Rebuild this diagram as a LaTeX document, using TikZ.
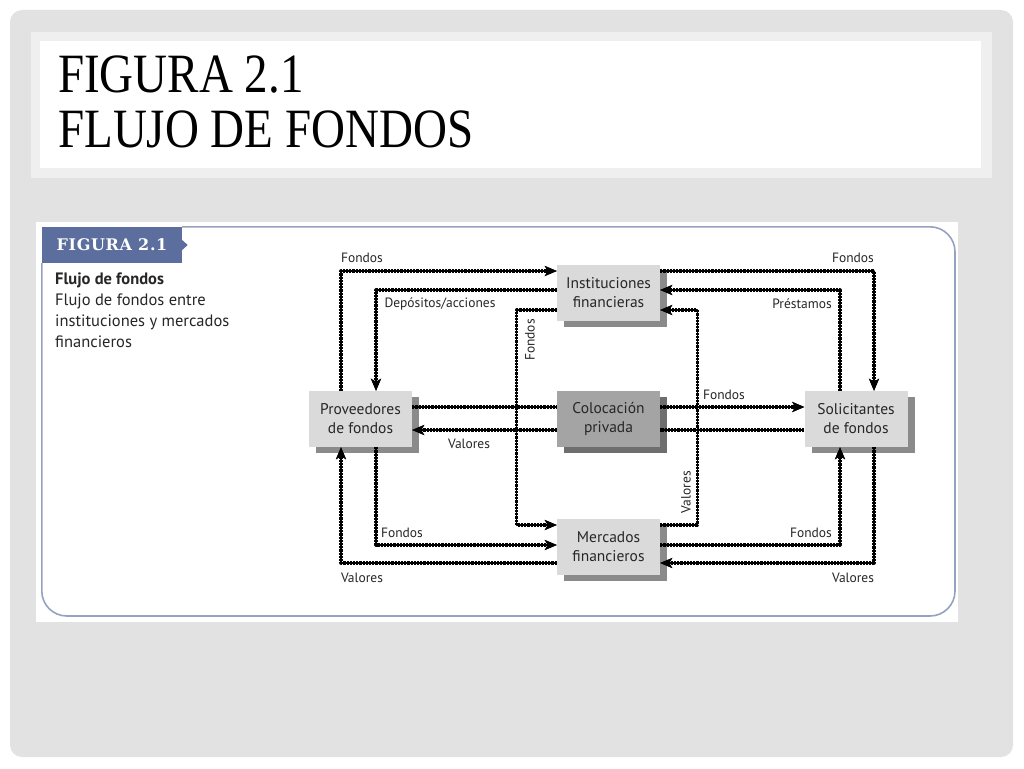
\documentclass[tikz,border=0pt]{standalone}
\usepackage{fontspec}
\usepackage{graphicx}
\setmainfont{Liberation Serif}
\setsansfont{PT Sans}
\newfontfamily\etiqueta[LetterSpace=4]{DejaVu Serif}
\usetikzlibrary{arrows.meta,shadows}
\definecolor{fondo}{HTML}{E2E2E2}
\definecolor{marco}{HTML}{EFEFEF}
\definecolor{tabazul}{HTML}{5B6E9D}
\definecolor{borde}{HTML}{97A2C1}
\definecolor{cajagris}{HTML}{DADADA}
\definecolor{sombra}{HTML}{8A8A8A}
\definecolor{colocgris}{HTML}{A4A4A4}
\definecolor{colocsombra}{HTML}{6E6E6E}
\begin{document}
\begin{tikzpicture}[x=1pt, y=-1pt, font=\sffamily, line join=round,
  >={Stealth[length=12pt,width=10pt,inset=3pt]},
  cajabase/.style={minimum width=103pt, minimum height=56pt, inner sep=0pt, align=center,
    font=\sffamily\fontsize{15.5}{19}\selectfont, text=black!85},
  caja/.style={cajabase, fill=cajagris,
    drop shadow={shadow xshift=7pt, shadow yshift=-6pt, fill=sombra, opacity=1}},
  colocacion/.style={cajabase, fill=colocgris,
    drop shadow={shadow xshift=7pt, shadow yshift=-6pt, fill=colocsombra, opacity=1}},
  flujo/.style={line width=3.2pt, line cap=butt, dash pattern=on 2.2pt off 1pt,
    preaction={draw, solid, line width=1.3pt}},
  rotulo/.style={font=\sffamily\fontsize{13.5}{15}\selectfont, text=black!85, inner sep=0pt}]
\useasboundingbox (0,0) rectangle (1024,768);
% diapositiva
\fill[fondo, rounded corners=12pt] (10,10) rectangle (1013,757);
\fill[marco] (31,32) rectangle (992,178);
\fill[white] (40,41) rectangle (981,168);
\node[anchor=base west, inner sep=0pt, font=\rmfamily\fontsize{47}{52}\selectfont] (t1) at (58,92)
  {\scalebox{1}[1.18]{FIGURA 2.1}};
\node[anchor=base west, inner sep=0pt, font=\rmfamily\fontsize{47}{52}\selectfont] (t2) at (58,147)
  {\scalebox{1}[1.18]{FLUJO DE FONDOS}};
% panel de la figura
\fill[white] (36,222) rectangle (958,622);
\node[fill=tabazul, minimum width=140pt, minimum height=36pt, inner sep=0pt, text=white,
  font=\etiqueta\bfseries\fontsize{16}{18}\selectfont] (tab) at (112,245) {FIGURA 2.1};
\fill[tabazul] ([yshift=5pt]tab.east) -- ++(5.5,5) -- ++(-5.5,5) -- cycle;
\draw[borde, line width=1.6pt, rounded corners=25pt] (tab.north east) -| (955,616) -| (tab.south west);
\node[anchor=north west, align=left, inner sep=0pt, text=black!85,
  font=\sffamily\fontsize{16.5}{20.8}\selectfont] (desc) at (55,273)
  {\textbf{Flujo de fondos}\\Flujo de fondos entre\\instituciones y mercados\\financieros};
% cajas
\node[caja] (inst) at (608.5,293) {Instituciones\\financieras};
\node[caja] (prov) at (360.5,419) {Proveedores\\de fondos};
\node[colocacion] (coloc) at (608.5,419) {Colocación\\privada};
\node[caja] (solic) at (856,419) {Solicitantes\\de fondos};
\node[caja] (merc) at (608.5,547) {Mercados\\financieros};
% flujos
\draw[flujo,->] ([xshift=-19.5pt]prov.north) |- ([yshift=22pt]inst.west);
\draw[flujo,->] ([yshift=3pt]inst.west) -| ([xshift=15.5pt]prov.north);
\draw[flujo,->] ([yshift=22pt]inst.east) -| ([xshift=18pt]solic.north);
\draw[flujo,->] ([xshift=-16pt]solic.north) |- ([yshift=3pt]inst.east);
\draw[flujo,->] ([yshift=-17pt]inst.west) -- ++(-40,0) |- ([yshift=22pt]merc.west);
\draw[flujo,->] ([yshift=22pt]merc.east) -- ++(37,0) |- ([yshift=-17pt]inst.east);
\draw[flujo] ([yshift=12pt]prov.east) -- ([yshift=12pt]coloc.west);
\draw[flujo,->] ([yshift=12pt]coloc.east) -- ([yshift=12pt]solic.west);
\draw[flujo] ([yshift=-11pt]solic.west) -- ([yshift=-11pt]coloc.east);
\draw[flujo,->] ([yshift=-11pt]coloc.west) -- ([yshift=-11pt]prov.east);
\draw[flujo,->] ([xshift=15.5pt]prov.south) |- ([yshift=2pt]merc.west);
\draw[flujo,->] ([yshift=-16pt]merc.west) -| ([xshift=-19.5pt]prov.south);
\draw[flujo,->] ([yshift=2pt]merc.east) -| ([xshift=-16pt]solic.south);
\draw[flujo,->] ([xshift=18pt]solic.south) |- ([yshift=-16pt]merc.east);
% rotulos
\node[rotulo] (lfa) at (362,258) {Fondos};
\node[rotulo] (ldep) at (440,304) {Depósitos/acciones};
\node[rotulo] (lfb) at (853,258) {Fondos};
\node[rotulo] (lpre) at (802,304) {Préstamos};
\node[rotulo, rotate=90] (lfv) at (530,340) {Fondos};
\node[rotulo, rotate=90] (lvv) at (686,492) {Valores};
\node[rotulo] (lfc) at (724,395) {Fondos};
\node[rotulo] (lvc) at (469,444) {Valores};
\node[rotulo] (lfd) at (402,533) {Fondos};
\node[rotulo] (lvd) at (362,578) {Valores};
\node[rotulo] (lfe) at (811,533) {Fondos};
\node[rotulo] (lve) at (853,578) {Valores};
\end{tikzpicture}
\end{document}
